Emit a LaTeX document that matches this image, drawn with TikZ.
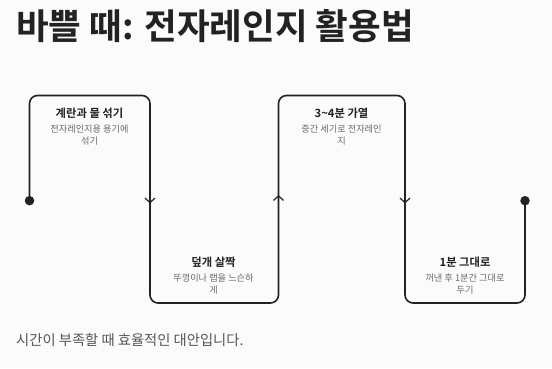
\documentclass[tikz,border=0pt]{standalone}
\usepackage{fontspec}
\setmainfont{Noto Sans CJK KR}[BoldFont={Noto Sans CJK KR Bold}]
\usepackage{tikz}
\usetikzlibrary{arrows.meta,positioning,decorations.markings}
\definecolor{Ink}{HTML}{222222}
\definecolor{Note}{HTML}{6A6A6A}
\definecolor{Foot}{HTML}{555555}
\definecolor{Paper}{HTML}{FBFBFB}

\begin{document}
\begin{tikzpicture}[
  x=1pt,y=1pt,
  every node/.style={inner sep=0pt},
  wave/.style={draw=Ink,line width=1.6pt,rounded corners=8pt},
  dot/.style={circle,fill=Ink,minimum size=9.5pt},
  midarrow/.style={postaction={decorate},decoration={markings,
    mark=at position 0.52 with {\arrow[Ink,line width=1.2pt]{Straight Barb[length=4.5pt,width=10pt]}}}},
  steptitle/.style={font=\bfseries\fontsize{11.3}{13}\selectfont,text=Ink},
  stepnote/.style={font=\fontsize{9.2}{11.5}\selectfont,text=Note,align=center}
]
\fill[Paper] (0,0) rectangle (552,368);
\useasboundingbox (0,0) rectangle (552,368);
\node[anchor=west,font=\bfseries\fontsize{35.5}{40}\selectfont,text=Ink] (head) at (16,341.5) {바쁠 때: 전자레인지 활용법};
\node[anchor=west,font=\fontsize{14.3}{17}\selectfont,text=Foot] (foot) at (16,27.5) {시간이 부족할 때 효율적인 대안입니다.};
% the square wave
\coordinate (start) at (29.5,167.3);
\coordinate (up1) at (29.5,272.5);
\coordinate (up2) at (150,272.5);
\coordinate (lo1) at (150,65);
\coordinate (lo2) at (278.5,65);
\coordinate (up3) at (278.5,272.5);
\coordinate (up4) at (405,272.5);
\coordinate (lo3) at (405,65);
\coordinate (lo4) at (525,65);
\coordinate (stop) at (525,167.3);
\draw[wave] (start) -- (up1) -- (up2) -- (lo1) -- (lo2) -- (up3) -- (up4) -- (lo3) -- (lo4) -- (stop);
\path[midarrow] (up2) -- (lo1);
\path[midarrow] (lo2) -- (up3);
\path[midarrow] (up4) -- (lo3);
\node[dot] (startdot) at (start) {};
\node[dot] (stopdot) at (stop) {};
% steps
\node[steptitle] (mix) at (89.5,255) {계란과 물 섞기};
\node[stepnote,below=6.5pt of mix] (mixnote) {전자레인지용 용기에\\섞기};
\node[steptitle] (cover) at (213.5,106) {덮개 살짝};
\node[stepnote,below=6.5pt of cover] (covernote) {뚜껑이나 랩을 느슨하\\게};
\node[steptitle] (heat) at (341.5,255) {3\textasciitilde4분 가열};
\node[stepnote,below=6.5pt of heat] (heatnote) {중간 세기로 전자레인\\지};
\node[steptitle] (rest) at (465,106) {1분 그대로};
\node[stepnote,below=6.5pt of rest] (restnote) {꺼낸 후 1분간 그대로\\두기};
\end{tikzpicture}
\end{document}
